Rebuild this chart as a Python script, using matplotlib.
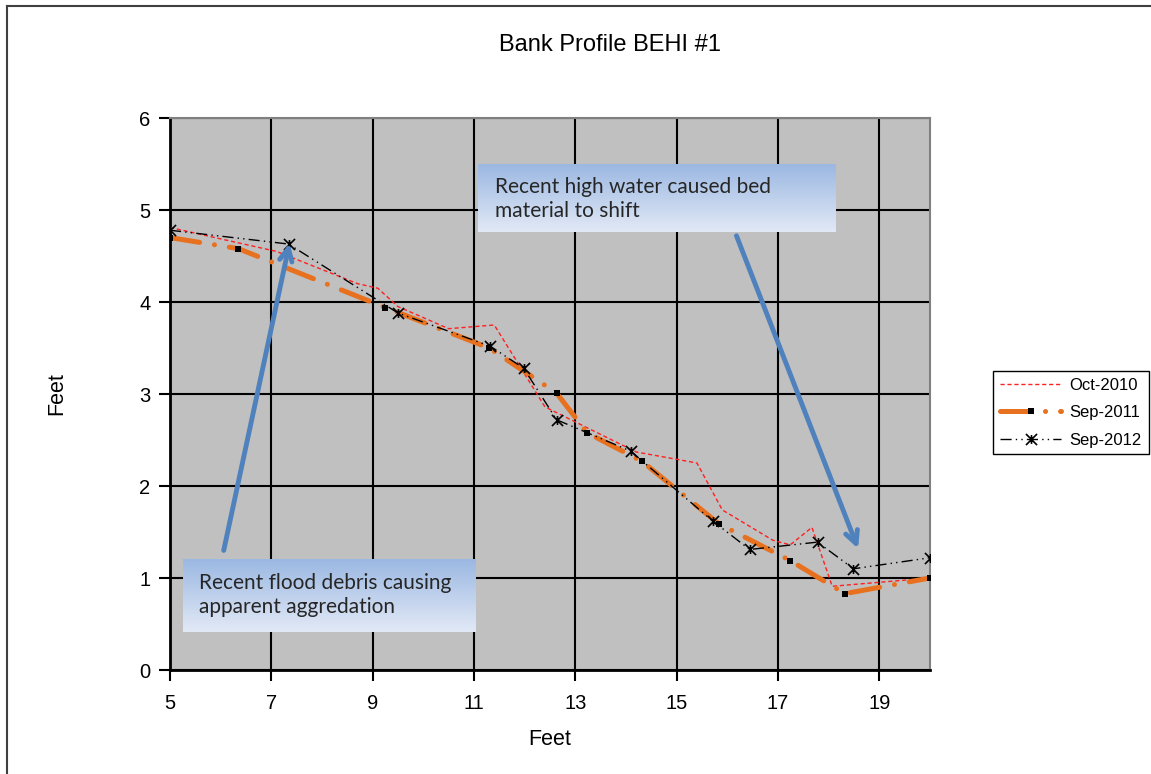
import numpy as np
import matplotlib
matplotlib.use('Agg')
import matplotlib.pyplot as plt
from matplotlib.path import Path
from matplotlib.lines import Line2D

# ============================================================
# Data
# ============================================================
oct2010_x = [5.0, 7.1, 8.7, 9.1, 9.5, 10.5, 11.4, 12.4, 14.2, 15.4, 15.9, 16.9, 17.24, 17.67, 18.07, 20.0]
oct2010_y = [4.81, 4.55, 4.2, 4.15, 3.95, 3.71, 3.75, 2.86, 2.37, 2.25, 1.74, 1.41, 1.36, 1.55, 0.91, 1.0]

sep2011_x = [5.0, 6.35, 9.25, 11.3, 12.63, 13.23, 14.31, 15.83, 17.24, 18.32, 20.0]
sep2011_y = [4.7, 4.58, 3.94, 3.5, 3.01, 2.58, 2.27, 1.59, 1.19, 0.83, 1.0]

sep2012_x = [5.0, 7.34, 9.5, 11.32, 11.98, 12.63, 14.09, 15.71, 16.44, 17.78, 18.49, 20.0]
sep2012_y = [4.78, 4.63, 3.88, 3.52, 3.28, 2.72, 2.38, 1.62, 1.31, 1.39, 1.10, 1.22]

x_ticks = [5, 7, 9, 11, 13, 15, 17, 19]
y_ticks = [0, 1, 2, 3, 4, 5, 6]

note1 = "Recent flood debris causing\napparent aggredation"
note2 = "Recent high water caused bed\nmaterial to shift"

# ============================================================
# Figure / axes
# ============================================================
plt.rcParams['font.family'] = ['Liberation Sans', 'DejaVu Sans']

fig = plt.figure(figsize=(11.51, 7.74), dpi=100)
ax = fig.add_axes([170 / 1151, 1 - 670 / 774, 760 / 1151, 552 / 774])
ax.set_facecolor('#C0C0C0')

# star marker (x with a vertical bar), like Excel's
star = Path([(-1, -1), (1, 1), (-1, 1), (1, -1), (0, -0.8), (0, 0.8)],
            [Path.MOVETO, Path.LINETO, Path.MOVETO, Path.LINETO, Path.MOVETO, Path.LINETO])

l1, = ax.plot(oct2010_x, oct2010_y, color='#FF2020', lw=1.0, dashes=(3, 2), zorder=3,
              label='Oct-2010')
l2, = ax.plot(sep2011_x, sep2011_y, color='#E8711F', lw=3.6, dashes=(6, 3, 0.01, 3),
              dash_capstyle='round', marker='s', ms=4, mfc='black', mec='black', mew=0,
              zorder=3, label='Sep-2011')
l3, = ax.plot(sep2012_x, sep2012_y, color='black', lw=1.0, dashes=(8, 3, 1, 3, 1, 3),
              marker=star, ms=8, mew=1.2, mfc='none', mec='black', zorder=4,
              label='Sep-2012')

# ============================================================
# Annotation boxes with vertical gradient
# ============================================================
top = np.array([155, 184, 226]) / 255
bot = np.array([226, 233, 246]) / 255
t = np.linspace(0, 1, 100)[:, None]
grad = (top[None, :] * (1 - t) + bot[None, :] * t)[:, None, :]

ax.imshow(grad, extent=[5.26, 11.04, 0.41, 1.20], aspect='auto', origin='upper', zorder=6)
ax.imshow(grad, extent=[11.08, 18.13, 4.76, 5.49], aspect='auto', origin='upper', zorder=6)

ax.text(5.57, 0.815, note1, fontsize=15, family=['Lato', 'DejaVu Sans'], color='#262626',
        va='center', ha='left', linespacing=1.2, zorder=7)
ax.text(11.42, 5.12, note2, fontsize=15, family=['Lato', 'DejaVu Sans'], color='#262626',
        va='center', ha='left', linespacing=1.2, zorder=7)

arrow_style = dict(arrowstyle='->,head_length=0.9,head_width=0.45', color='#4F81BD',
                   lw=3.5, shrinkA=0, shrinkB=0)
ax.annotate('', xy=(7.36, 4.64), xytext=(6.06, 1.30), arrowprops=arrow_style, zorder=8)
ax.annotate('', xy=(18.58, 1.32), xytext=(16.18, 4.72), arrowprops=arrow_style, zorder=8)

# ============================================================
# Axes styling
# ============================================================
ax.set_xlim(5, 20)
ax.set_ylim(0, 6)
ax.set_xticks(x_ticks)
ax.set_yticks(y_ticks)
ax.grid(True, color='black', lw=1.5, zorder=1)
ax.set_axisbelow(True)
ax.tick_params(axis='both', direction='out', length=8, width=1.5, labelsize=14.5,
               colors='black', pad=6)
ax.tick_params(axis='x', pad=9)
for side in ['left', 'bottom']:
    ax.spines[side].set_linewidth(2)
    ax.spines[side].set_color('black')
for side in ['top', 'right']:
    ax.spines[side].set_linewidth(1.5)
    ax.spines[side].set_color('#808080')

ax.set_xlabel('Feet', fontsize=15.5, labelpad=12)
ax.set_ylabel('Feet', fontsize=15.5, labelpad=52)

fig.text(610 / 1151, 1 - 45 / 774, 'Bank Profile BEHI #1', fontsize=17,
         ha='center', va='center')

fig.legend(handles=[l1, l2, l3], loc='upper left',
           bbox_to_anchor=(993 / 1151, 1 - 371 / 774), fontsize=12,
           frameon=True, fancybox=False, edgecolor='black', framealpha=1,
           handlelength=3.7, handletextpad=0.5, borderpad=0.4, labelspacing=0.75,
           borderaxespad=0)

# outer chart border (left and top edges visible in the reference)
fig.add_artist(Line2D([7 / 1151, 7 / 1151], [0, 1 - 6 / 774], color='#404040', lw=1.5))
fig.add_artist(Line2D([7 / 1151, 1], [1 - 6 / 774, 1 - 6 / 774], color='#404040', lw=1.5))

fig.savefig('out.png', dpi=100)
